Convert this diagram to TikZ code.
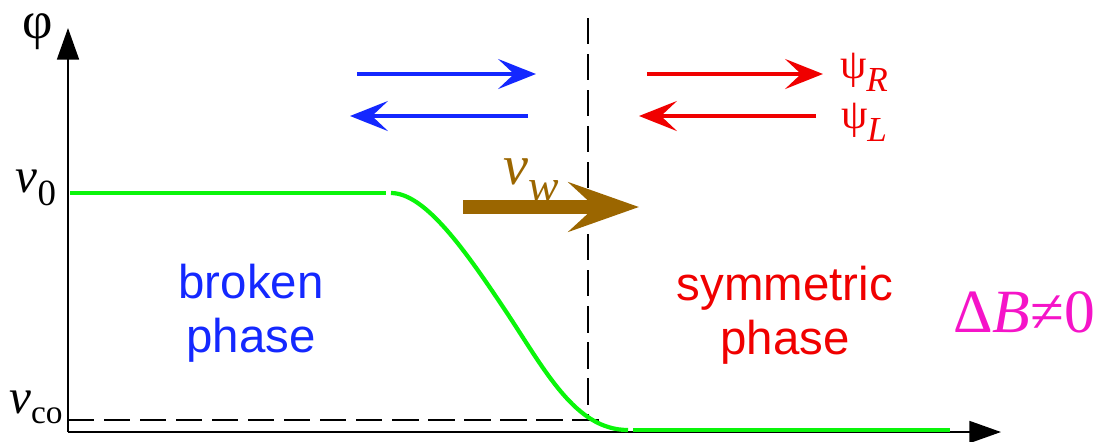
\documentclass[tikz,border=0pt]{standalone}
\usepackage{fontspec}
\setmainfont{Liberation Serif}
\newfontfamily\phasefont{Liberation Sans}
\usetikzlibrary{arrows.meta}

\definecolor{wallgreen}{RGB}{10,245,10}
\definecolor{brokenblue}{RGB}{20,40,255}
\definecolor{symred}{RGB}{240,0,0}
\definecolor{wallbrown}{RGB}{155,102,0}
\definecolor{chargemag}{RGB}{245,20,200}

\tikzset{
  axis/.style={line width=1.1pt, -{Triangle[length=18pt,width=12.5pt]}},
  guide/.style={line width=1.4pt, dash pattern=on 15pt off 5.5pt},
  profile/.style={wallgreen, line width=2.4pt},
  flux/.style={line width=2.8pt, -{Stealth[length=21.5pt,width=17pt,inset=9pt]}},
  phaselabel/.style={font=\phasefont\fontsize{27}{31}\selectfont, align=center},
}

\begin{document}
\begin{tikzpicture}[x=0.02cm, y=-0.02cm]

\useasboundingbox (0,0) rectangle (1095,441);

% Axes
\coordinate (O) at (68,432);
\coordinate (ytop) at (68,28);
\coordinate (xend) at (1001,432);
\draw[axis] (O) -- (ytop);
\draw[axis] (O) -- (xend);

\node[inner sep=0pt] (phi) at (38,32) {\fontsize{30}{30}\selectfont φ};
\node (vzero) at (36,188) {\fontsize{28}{28}\selectfont\textit{v}\raisebox{-0.25em}{\fontsize{21}{21}\selectfont 0}};
\node (vco) at (36,407) {\fontsize{28}{28}\selectfont\textit{v}\raisebox{-0.2em}{\fontsize{19}{19}\selectfont co}};

% Parois
\coordinate (wtop) at (588,18);
\coordinate (wbot) at (588,420);
\coordinate (coleft) at (68,420);
\coordinate (coright) at (600,420);
\draw[guide] (wtop) -- (wbot);
\draw[guide] (coleft) -- (coright);

% Profil
\coordinate (p0) at (70,193);
\coordinate (p1) at (386,193);
\coordinate (p2) at (391,193);
\coordinate (pm) at (505,310);
\coordinate (p3) at (628,430);
\coordinate (p4) at (633,430);
\coordinate (p5) at (950,430);
\draw[profile] (p0) -- (p1);
\draw[profile] (p2) .. controls (425,193) and (465,250) .. (pm)
  .. controls (545,370) and (575,430) .. (p3);
\draw[profile] (p4) -- (p5);

% Flux
\coordinate (bRs) at (357,74);
\coordinate (bRe) at (536,74);
\coordinate (bLs) at (528,116);
\coordinate (bLe) at (350,116);
\coordinate (rRs) at (647,74);
\coordinate (rRe) at (823,74);
\coordinate (rLs) at (816,116);
\coordinate (rLe) at (639,116);
\draw[flux, brokenblue] (bRs) -- (bRe);
\draw[flux, brokenblue] (bLs) -- (bLe);
\draw[flux, symred] (rRs) -- (rRe);
\draw[flux, symred] (rLs) -- (rLe);

\node[symred] (psiR) at (864,72) {\fontsize{24}{24}\selectfont ψ\raisebox{-0.3em}{\fontsize{20}{20}\selectfont\textit{R}}};
\node[symred] (psiL) at (864,122) {\fontsize{24}{24}\selectfont ψ\raisebox{-0.3em}{\fontsize{20}{20}\selectfont\textit{L}}};

% Vitesse de paroi
\coordinate (vws) at (463,207);
\coordinate (vwe) at (639,207);
\draw[wallbrown, line width=8pt, -{Stealth[length=40pt,width=28pt,inset=15pt]}] (vws) -- (vwe);
\node[wallbrown] (vw) at (531,180) {\fontsize{32}{32}\selectfont\textit{v}\raisebox{-0.3em}{\fontsize{26}{26}\selectfont\textit{w}}};

% Phases
\node[phaselabel, brokenblue] (broken) at (251,313) {broken\\phase};
\node[phaselabel, symred] (symm) at (785,315) {symmetric\\phase};
\node[chargemag] (dB) at (1024,312) {\fontsize{35}{35}\selectfont Δ\textit{B}≠0};

\end{tikzpicture}
\end{document}
